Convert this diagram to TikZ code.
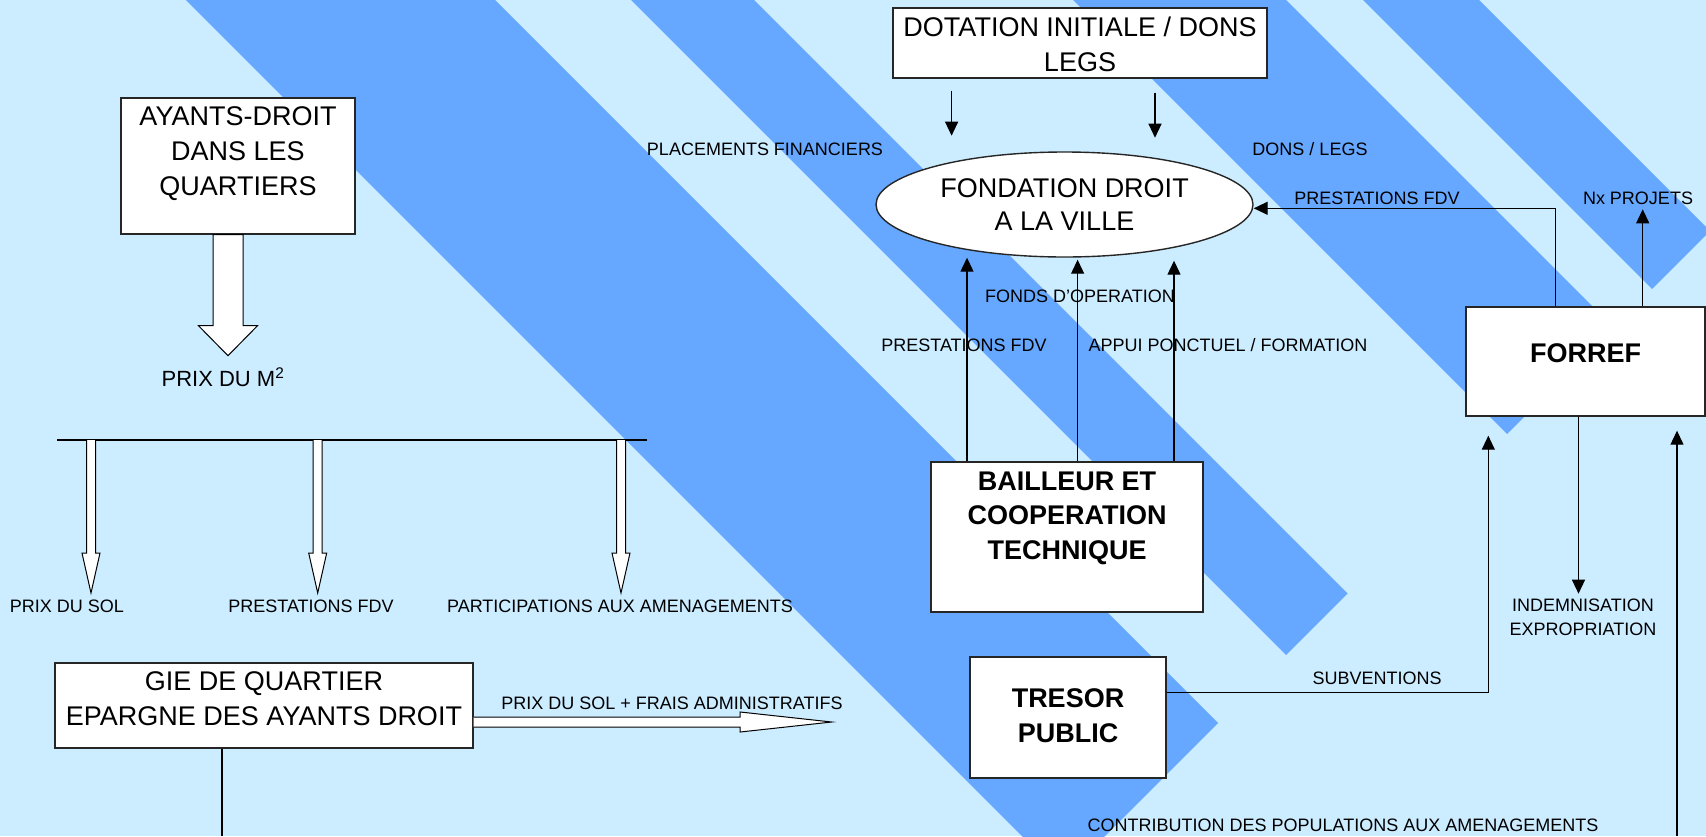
\documentclass[tikz,border=0pt]{standalone}
\usepackage{fontspec}
\setmainfont{Liberation Sans}
\usetikzlibrary{arrows.meta, positioning, shapes.geometric}
\definecolor{skyback}{RGB}{204,236,255}
\definecolor{stripeblue}{RGB}{102,168,255}

\begin{document}
\begin{tikzpicture}[x=1pt, y=-1pt, >={Triangle[length=14pt,width=13pt]},
  box/.style={draw=black!85, line width=1.4pt, fill=white, align=center, inner sep=0pt, anchor=base},
  bigtext/.style={font=\fontsize{27}{35}\selectfont},
  boldtext/.style={font=\fontsize{27}{34.5}\selectfont\bfseries},
  lbl/.style={font=\fontsize{18}{24}\selectfont, anchor=base, align=center},
  flow/.style={line width=1.2pt},
  hollow/.style={draw=black, line width=1pt, fill=white}]

% Background and diagonal bands
\fill[skyback] (0,0) rectangle (1706,836);
\useasboundingbox (0,0) rectangle (1706,836);
\begin{scope}
\clip (0,0) rectangle (1706,836);
\foreach \a/\b in {186/495, 631/754, 1073/1286, 1363/1479}
  \fill[stripeblue] (\a,0) -- (\b,0) -- ({(1941+\b)/2},{(1941-\b)/2}) -- ({(1941+\a)/2},{(1941-\a)/2}) -- cycle;
\end{scope}

% Boxes (placed at the baseline of their last line)
\node[box, bigtext, minimum width=234pt, text height=97.3pt, text depth=38.7pt] (ayants) at (238,195.3) {AYANTS-DROIT\\DANS LES\\QUARTIERS};
\node[box, bigtext, minimum width=374pt, text height=63pt, text depth=7pt] (dot) at (1080,71) {DOTATION INITIALE / DONS\\LEGS};
\node[box, bigtext, minimum width=418pt, text height=62pt, text depth=23pt] (gie) at (264,725) {GIE DE QUARTIER\\EPARGNE DES AYANTS DROIT};
\node[box, boldtext, minimum width=272pt, text height=97pt, text depth=53pt] (bail) at (1067,559) {BAILLEUR ET\\COOPERATION\\TECHNIQUE};
\node[box, boldtext, minimum width=196pt, text height=85pt, text depth=36pt] (tres) at (1068,742) {TRESOR\\PUBLIC};
\node[box, boldtext, minimum width=239pt, text height=55pt, text depth=54pt] (forref) at (1585.5,362) {FORREF};

% The foundation
\node[ellipse, draw=black!85, line width=1.4pt, fill=white, minimum width=377pt, minimum height=105pt, inner sep=0pt, align=center, font=\fontsize{27}{33}\selectfont] (fdv) at (1064.5,204.5) {FONDATION DROIT\\A LA VILLE};

% Flow labels
\node[lbl] (plac) at (765,155) {PLACEMENTS FINANCIERS};
\node[lbl] (dons) at (1310,155) {DONS / LEGS};
\node[lbl] (prestR) at (1377,204) {PRESTATIONS FDV};
\node[lbl] (projets) at (1638,204) {Nx PROJETS};
\node[lbl] (fonds) at (1080,302) {FONDS D'OPERATION};
\node[lbl] (prestB) at (964,351) {PRESTATIONS FDV};
\node[lbl] (appui) at (1228,351) {APPUI PONCTUEL / FORMATION};
\node[lbl, font=\fontsize{22}{26}\selectfont] (prixm) at (223,386) {PRIX DU M\textsuperscript{2}};
\node[lbl] (sol) at (67,612) {PRIX DU SOL};
\node[lbl] (prestL) at (311,612) {PRESTATIONS FDV};
\node[lbl] (partic) at (620,612) {PARTICIPATIONS AUX AMENAGEMENTS};
\node[lbl] (indem) at (1583,635.7) {INDEMNISATION\\EXPROPRIATION};
\node[lbl] (subv) at (1377,684) {SUBVENTIONS};
\node[lbl] (frais) at (672,709) {PRIX DU SOL + FRAIS ADMINISTRATIFS};
\node[lbl] (contrib) at (1343,831) {CONTRIBUTION DES POPULATIONS AUX AMENAGEMENTS};

% Dotation into the foundation
\draw[->, flow] ([xshift=-128.4pt,yshift=-12pt]dot.south) -- ++(0,45);
\draw[->, flow] ([xshift=75pt,yshift=-14pt]dot.south) -- ++(0,45);

% Bailleur up to the foundation
\draw[->, flow] ([xshift=-100pt]bail.north) -- ([xshift=-97.5pt]fdv.south);
\draw[->, flow] ([xshift=10.6pt]bail.north) -- ([xshift=13.1pt,yshift=-2pt]fdv.south);
\draw[->, flow] ([xshift=107pt]bail.north) -- ([xshift=109.5pt,yshift=-3pt]fdv.south);

% Forref links
\draw[->, flow] ([xshift=-30pt]forref.north) |- ([yshift=-3.8pt]fdv.east);
\draw[->, flow] ([xshift=57.2pt]forref.north) -- ++(0,-97);
\draw[->, flow] ([xshift=-7pt]forref.south) -- ++(0,177);
\draw[->, flow, shorten >=19pt] ([yshift=25.3pt]tres.east) -| ([xshift=23pt]forref.south west);
\coordinate (popin) at (1677,836);
\draw[->, flow] (popin) -- ([xshift=91.5pt,yshift=-14pt]forref.south);

% GIE down
\coordinate (gieout) at (222,836);
\draw[flow] (gie.south -| gieout) -- (gieout);

% Hollow arrows
\draw[hollow] ([xshift=-25pt]ayants.south) -- ++(0,91) -- ++(-14.5,0) -- ++(29.5,30) -- ++(29.5,-30) -- ++(-14.5,0) -- ++(0,-91) -- cycle;
\coordinate (barL) at (57,440);
\coordinate (barR) at (647,440);
\draw[flow] (barL) -- (barR);
\foreach \x in {91,317.7,621}
  \draw[hollow] ({\x-4.5},440) -- ({\x-4.5},553) -- ({\x-9},553) -- (\x,593) -- ({\x+9},553) -- ({\x+4.5},553) -- ({\x+4.5},440);
\draw[hollow] ([yshift=-11.5pt]gie.east) -- ++(266.5,0) -- ++(0,-5) -- ++(91.5,10) -- ++(-91.5,10) -- ++(0,-5) -- ++(-266.5,0);

\end{tikzpicture}
\end{document}
